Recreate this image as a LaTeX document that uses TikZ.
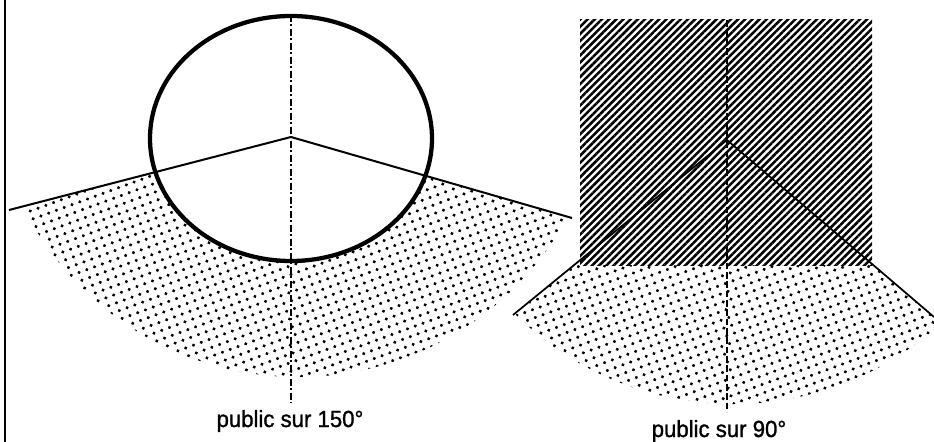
\documentclass[tikz,border=0pt]{standalone}
\usepackage{fontspec}
\setmainfont{Liberation Sans}
\newfontfamily\publabelfont{Liberation Sans}[FakeBold=1.2, FakeStretch=0.95]
\usetikzlibrary{patterns.meta}

\tikzset{
  dotfill/.style={pattern={Dots[distance=6.2pt, radius=1.3pt, angle=20]}},
  hatchfill/.style={pattern={Lines[angle=45, distance=3.8pt, line width=1.9pt]}},
  axisline/.style={line width=1.5pt, dash pattern=on 5pt off 2pt on 1.5pt off 2pt},
  axisdash/.style={line width=1.5pt, dash pattern=on 5pt off 2pt},
  rayline/.style={line width=1.5pt},
  publabel/.style={font=\publabelfont\fontsize{17.5}{20}\selectfont, inner sep=0pt}
}

\begin{document}
\begin{tikzpicture}[x=0.75pt, y=-0.75pt]
  \useasboundingbox (0,0) rectangle (934,442);
  % frame edge
  \coordinate (frametop) at (5,0);
  \coordinate (framebot) at (5,442);
  \draw[line width=1.1pt] (frametop) -- (framebot);

  % stage with public on 150 degrees
  \begin{scope}
    \coordinate (apexL) at (291,137);
    \coordinate (leftL) at (9,210);
    \coordinate (rightL) at (572,218);
    \coordinate (topL) at (291,15);
    \coordinate (botL) at (291,403);
    % dotted public area
    \begin{scope}
      \clip (apexL) -- (-300,290) -- (-300,520) -- (900,520) -- (900,313) -- cycle;
      \fill[dotfill, even odd rule] (298,70) circle[radius=307]
        (291,138.5) ellipse[x radius=141, y radius=122.5];
    \end{scope}
    % limits of the public
    \draw[rayline] (leftL) -- (apexL) -- (rightL);
    % round stage
    \draw[line width=3.2pt] (291,138.5) ellipse[x radius=141, y radius=122.5];
    % axis
    \draw[axisline] (topL) -- (botL);
    \node[publabel] (label150) at (290,421) {public sur 150°};
  \end{scope}

  % stage with public on 90 degrees
  \begin{scope}
    \coordinate (apexR) at (727,140);
    \coordinate (leftR) at (513,315);
    \coordinate (rightR) at (934,317);
    \coordinate (topR) at (727,20);
    \coordinate (botR) at (727,412);
    % dotted public area
    \begin{scope}
      \clip (apexR) -- (299,490) -- (1141,494) -- cycle;
      \fill[dotfill] (733,95) circle[radius=309];
    \end{scope}
    % hatched stage
    \fill[white] (580,20) rectangle (872,265);
    \fill[hatchfill] (580,20) rectangle (872,265);
    % limits of the public
    \draw[rayline, line width=1.3pt] (leftR) -- (apexR) -- (rightR);
    % axis
    \draw[axisdash] (topR) -- (botR);
    \node[publabel] (label90) at (719,431) {public sur 90°};
  \end{scope}
\end{tikzpicture}
\end{document}
